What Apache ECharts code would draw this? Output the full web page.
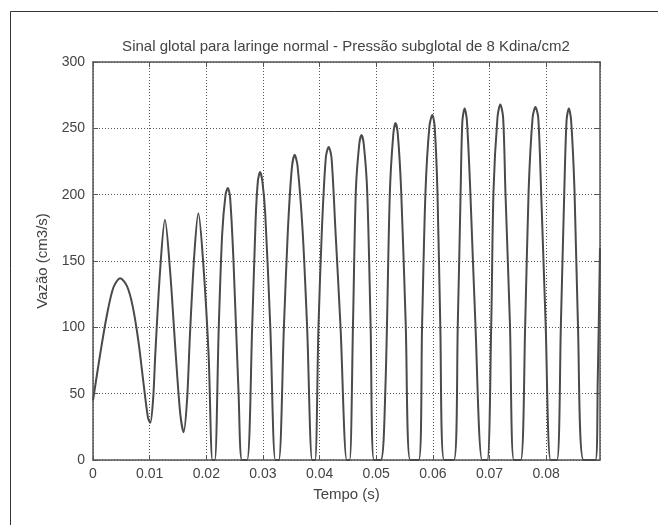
<!DOCTYPE html>
<html>
<head>
<meta charset="utf-8">
<script src="https://cdn.jsdelivr.net/npm/echarts@6/dist/echarts.min.js"></script>
<style>
  html, body { margin: 0; padding: 0; background: #ffffff; }
  #chart { width: 658px; height: 525px; }
</style>
</head>
<body>
<div id="chart"></div>
<script>
var titulo = 'Sinal glotal para laringe normal - Pressão subglotal de 8 Kdina/cm2';
var nomeX = 'Tempo (s)';
var nomeY = 'Vazão (cm3/s)';

// tempo (s) e vazao (cm3/s)
var tempo = [
  0, 0.0012, 0.0024, 0.0036, 0.0048, 0.006, 0.007, 0.008, 0.009, 0.0097, 0.0101, 0.0106,
  0.011, 0.01185, 0.0127, 0.0136, 0.0146, 0.0154, 0.016, 0.0166,
  0.0171, 0.0179, 0.0186, 0.0195, 0.0204, 0.0211, 0.0215,
  0.0222, 0.0228, 0.0234, 0.0238, 0.0242, 0.0248, 0.0257, 0.0263, 0.0272,
  0.0281, 0.0287, 0.0291, 0.0295, 0.0299, 0.0304, 0.0313, 0.0322, 0.0328,
  0.0337, 0.0344, 0.0351, 0.0356, 0.0361, 0.037, 0.0378, 0.0387, 0.0392,
  0.0398, 0.0404, 0.0411, 0.0416, 0.0421, 0.0428, 0.0437, 0.0448, 0.0453,
  0.0459, 0.0464, 0.047, 0.0474, 0.0478, 0.0484, 0.049, 0.0496, 0.0508,
  0.0516, 0.0524, 0.053, 0.0534, 0.0538, 0.0544, 0.0552, 0.056, 0.0575,
  0.0581, 0.0587, 0.0594, 0.0599, 0.0603, 0.0608, 0.0613, 0.062, 0.0637,
  0.0644, 0.0649, 0.0652, 0.0656, 0.066, 0.0666, 0.0675, 0.0687, 0.0696,
  0.0703, 0.0707, 0.0714, 0.0719, 0.0724, 0.0728, 0.0736, 0.0743, 0.0755,
  0.0763, 0.0769, 0.0776, 0.0781, 0.0786, 0.0791, 0.0799, 0.0808, 0.0819,
  0.0826, 0.0832, 0.0836, 0.084, 0.0844, 0.085, 0.0856, 0.0866, 0.0887,
  0.0891, 0.0895
];
var vazao = [
  45, 78, 108, 130, 137, 131, 116, 90, 55, 32, 28, 45,
  80, 143, 181, 143, 80, 35, 21, 45,
  93, 156, 186, 146, 80, 0, 0,
  100, 170, 200, 205, 198, 150, 50, 0, 0,
  100, 180, 210, 217, 210, 186, 100, 0, 0,
  100, 173, 220, 230, 222, 173, 100, 0, 0,
  100, 173, 228, 236, 228, 173, 100, 0, 0,
  103, 203, 238, 245, 238, 203, 103, 0, 0,
  52, 201, 245, 254, 246, 203, 103, 0, 0,
  103, 203, 252, 260, 252, 203, 103, 0, 0,
  103, 203, 255, 265, 256, 203, 103, 0, 0,
  103, 203, 258, 268, 258, 203, 103, 0, 0,
  103, 203, 258, 266, 258, 203, 103, 0, 0,
  103, 203, 256, 265, 256, 203, 103, 0, 0,
  60, 160
];
var xMax = 0.0895;
var yMax = 300;

var pontos = [];
for (var i = 0; i < tempo.length; i++) {
  pontos.push([tempo[i], vazao[i]]);
}

var fonte = '"Liberation Sans", Arial, sans-serif';
var cinza = '#555555';

var chart = echarts.init(document.getElementById('chart'), null, { renderer: 'canvas' });

var option = {
  backgroundColor: '#ffffff',
  animation: false,
  title: {
    text: titulo,
    left: 346,
    top: 39,
    textAlign: 'center',
    padding: 0,
    textStyle: { fontFamily: fonte, fontSize: 15, fontWeight: 'normal', color: '#444' }
  },
  graphic: [{
    type: 'rect',
    shape: { x: 10.5, y: 11.5, width: 700, height: 600 },
    style: { fill: 'none', stroke: '#333', lineWidth: 1 },
    silent: true
  }],
  grid: { left: 93, right: 58, top: 62, bottom: 65 },
  xAxis: [{
    type: 'value',
    min: 0,
    max: xMax,
    interval: 0.01,
    name: nomeX,
    nameLocation: 'middle',
    nameGap: 27,
    nameTextStyle: { fontFamily: fonte, fontSize: 15, color: '#444' },
    axisLine: { show: true, onZero: false, lineStyle: { color: cinza, width: 1.5 } },
    axisTick: { show: true, inside: true, length: 5, lineStyle: { color: cinza } },
    axisLabel: {
      showMaxLabel: false,
      margin: 7,
      fontFamily: fonte,
      fontSize: 14,
      color: '#444',
      formatter: function (v) { return String(+v.toFixed(3)); }
    },
    splitLine: { show: true, lineStyle: { color: cinza, type: [1, 2], width: 1 } }
  }, {
    type: 'value',
    position: 'top',
    min: 0,
    max: xMax,
    interval: 0.01,
    axisLine: { show: true, onZero: false, lineStyle: { color: cinza, width: 1.5 } },
    axisTick: { show: true, inside: true, length: 5, lineStyle: { color: cinza } },
    axisLabel: { show: false },
    splitLine: { show: false }
  }],
  yAxis: [{
    type: 'value',
    min: 0,
    max: yMax,
    interval: 50,
    name: nomeY,
    nameLocation: 'middle',
    nameGap: 34,
    nameTextStyle: { fontFamily: fonte, fontSize: 15, color: '#444' },
    axisLine: { show: true, onZero: false, lineStyle: { color: cinza, width: 1.5 } },
    axisTick: { show: true, inside: true, length: 5, lineStyle: { color: cinza } },
    axisLabel: { margin: 8, fontFamily: fonte, fontSize: 14, color: '#444' },
    splitLine: { show: true, lineStyle: { color: cinza, type: [1, 2], width: 1 } }
  }, {
    type: 'value',
    position: 'right',
    min: 0,
    max: yMax,
    interval: 50,
    axisLine: { show: true, onZero: false, lineStyle: { color: cinza, width: 1.5 } },
    axisTick: { show: true, inside: true, length: 5, lineStyle: { color: cinza } },
    axisLabel: { show: false },
    splitLine: { show: false }
  }],
  series: [{
    type: 'line',
    xAxisIndex: 0,
    yAxisIndex: 0,
    data: pontos,
    smooth: 0.3,
    showSymbol: false,
    lineStyle: { color: '#4a4a4a', width: 2 },
    clip: true
  }]
};

chart.setOption(option);
</script>
</body>
</html>
